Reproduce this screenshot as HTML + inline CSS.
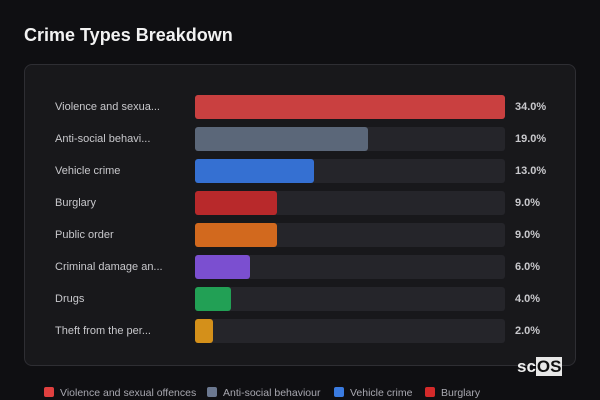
<!DOCTYPE html>
<html><head><meta charset="utf-8"><style>
body{margin:0;width:600px;height:400px;background:#0f0f12;overflow:hidden;font-family:"Liberation Sans",sans-serif;position:relative}
#title{position:absolute;left:24px;top:25px;font-size:18px;font-weight:bold;color:#f2f2f2}
#panel{position:absolute;left:24px;top:64px;width:550px;height:300px;border:1px solid #2e2e33;border-radius:8px;background:#18181b}
.lbl{position:absolute;left:55px;font-size:11px;color:#c8c8cc;line-height:14px}
.val{position:absolute;left:515px;font-size:11px;font-weight:bold;color:#c8c8cc;line-height:14px}
.track{position:absolute;left:195px;width:310px;height:24px;background:#25252a;border-radius:3px}
.bar{position:absolute;left:195px;height:24px;border-radius:3px}
.leg{position:absolute;top:387px;font-size:10.5px;color:#a8a8b0;line-height:13px;white-space:nowrap}
.leg span{display:inline-block;width:10px;height:10px;border-radius:2px;vertical-align:-1px;margin-right:6px}
#logo{position:absolute;left:517px;top:357px;font-size:17px;font-weight:bold;color:#eee}
#logo b{background:#e8e8e8;color:#111;padding:0 1px}
</style></head><body>
<div id="title">Crime Types Breakdown</div>
<div id="panel"></div>
<div id="chart"></div>
<div id="logo">sc<b>OS</b></div>
<div class="leg" style="left:44px"><span style="background:#e0403f"></span>Violence and sexual offences</div>
<div class="leg" style="left:207px"><span style="background:#6b7890"></span>Anti-social behaviour</div>
<div class="leg" style="left:334px"><span style="background:#3a7be0"></span>Vehicle crime</div>
<div class="leg" style="left:425px"><span style="background:#d42a2a"></span>Burglary</div>
<script>
const categories=["Violence and sexua...","Anti-social behavi...","Vehicle crime","Burglary","Public order","Criminal damage an...","Drugs","Theft from the per..."];
const values=[34,19,13,9,9,6,4,2];
const colors=["#c94040","#5b6779","#3570d2","#b8292b","#d2691e","#7b4fd0","#22a055","#d4901a"];
const maxV=Math.max(...values);
const chart=document.getElementById('chart');
function x(v){return v/maxV*310;}
function y(i){return 95+i*32;}
categories.forEach((c,i)=>{
  const l=document.createElement('div');l.className='lbl';l.style.top=(y(i)+5)+'px';l.textContent=c;
  
  
  chart.appendChild(l);
  const t=document.createElement('div');t.className='track';t.style.top=y(i)+'px';
  
  
  chart.appendChild(t);
  const b=document.createElement('div');b.className='bar';b.style.top=y(i)+'px';b.style.width=x(values[i])+'px';b.style.background=colors[i];
  
  
  chart.appendChild(b);
  const v=document.createElement('div');v.className='val';v.style.top=(y(i)+5)+'px';v.textContent=values[i].toFixed(1)+'%';
  
  
  chart.appendChild(v);
});
</script>
</body></html>
